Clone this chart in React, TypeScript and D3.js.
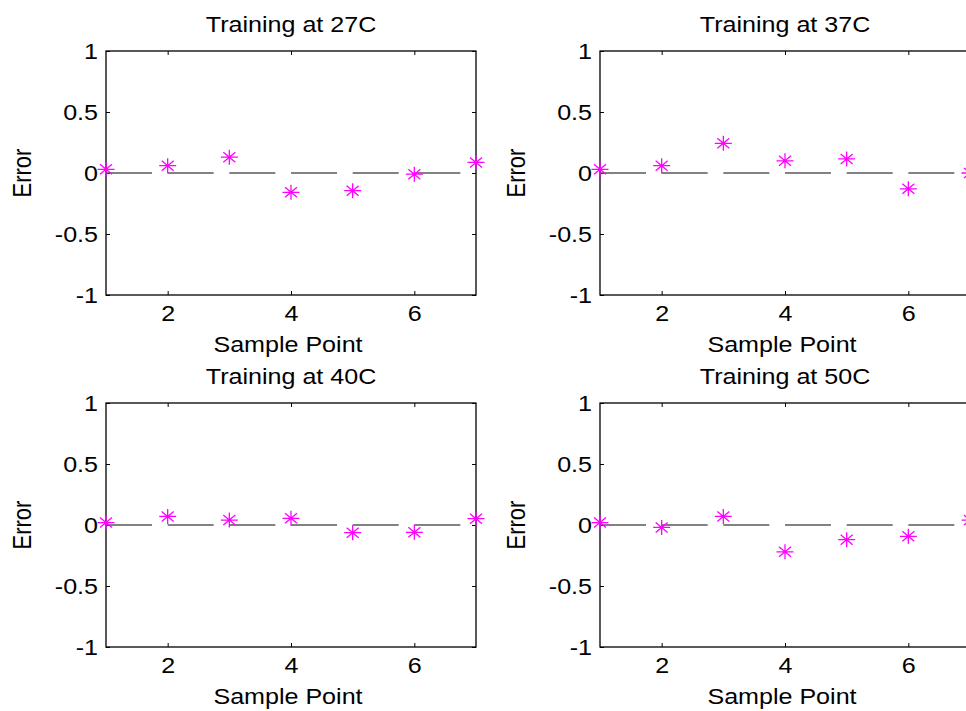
import React, { useRef, useEffect } from 'react';
import * as d3 from 'd3';

// sample index on the x axis
const samplePoints = [1, 2, 3, 4, 5, 6, 7];

// error per sample, one array per training temperature
const err27 = [0.03, 0.06, 0.13, -0.158, -0.145, -0.01, 0.087];
const err37 = [0.03, 0.06, 0.243, 0.1, 0.115, -0.13, 0.0];
const err40 = [0.02, 0.07, 0.04, 0.055, -0.063, -0.06, 0.052];
const err50 = [0.02, -0.02, 0.07, -0.22, -0.12, -0.093, 0.04];

const titles = ['Training at 27C', 'Training at 37C', 'Training at 40C', 'Training at 50C'];
const seriesList = [err27, err37, err40, err50];

const xTicks = [2, 4, 6];
const yTicks = [-1, -0.5, 0, 0.5, 1];

const W = 966;
const H = 711;
const FONT = '"Liberation Sans", Arial, sans-serif';
const FS = 22;
const STRETCH = 1.14;

const App = () => {
  const ref = useRef<SVGSVGElement | null>(null);

  useEffect(() => {
    if (!ref.current) return;
    const svg = d3.select(ref.current);
    svg.selectAll('*').remove();

    const pw = 370;
    const ph = 244;
    const origins = [
      { left: 106, top: 51 },
      { left: 600, top: 51 },
      { left: 106, top: 403 },
      { left: 600, top: 403 },
    ];

    seriesList.forEach((series, k) => {
      const { left, top } = origins[k];
      const g = svg.append('g').attr('transform', `translate(${left},${top})`);

      const x = d3.scaleLinear().domain([1, 7]).range([0, pw]);
      const y = d3.scaleLinear().domain([-1, 1]).range([ph, 0]);

      // box
      g.append('rect')
        .attr('width', pw)
        .attr('height', ph)
        .attr('fill', 'none')
        .attr('stroke', '#000')
        .attr('stroke-width', 1.3);

      const styleAxis = (sel: any) => {
        sel.select('.domain').remove();
        sel.selectAll('line').attr('stroke', '#000');
        sel.selectAll('text')
          .attr('font-family', FONT)
          .attr('font-size', FS)
          .attr('fill', '#000')
          .attr('transform', `scale(${STRETCH},1)`);
      };

      const fmt = (d: any) => String(d);

      g.append('g')
        .call(d3.axisLeft(y).tickValues(yTicks).tickFormat(fmt).tickSize(-4).tickSizeOuter(0).tickPadding(7))
        .call(styleAxis);
      g.append('g')
        .attr('transform', `translate(${pw},0)`)
        .call(d3.axisRight(y).tickValues(yTicks).tickFormat(() => '').tickSize(-4).tickSizeOuter(0))
        .call(styleAxis);
      g.append('g')
        .attr('transform', `translate(0,${ph})`)
        .call(d3.axisBottom(x).tickValues(xTicks).tickFormat(fmt).tickSize(-4).tickSizeOuter(0).tickPadding(10))
        .call(styleAxis);
      g.append('g')
        .call(d3.axisTop(x).tickValues(xTicks).tickFormat(() => '').tickSize(-4).tickSizeOuter(0))
        .call(styleAxis);

      // dashed zero line
      const zero = d3.line<number>().x(d => x(d)).y(() => y(0));
      g.append('path')
        .datum([1, 7])
        .attr('d', zero)
        .attr('fill', 'none')
        .attr('stroke', '#5a5a5a')
        .attr('stroke-width', 1.6)
        .attr('stroke-dasharray', '46 15.67');

      // asterisk markers
      const star = 'M-8.5,0H8.5M0,-7.5V7.5M-6,-5L6,5M-6,5L6,-5';
      g.selectAll('path.pt')
        .data(series)
        .enter()
        .append('path')
        .attr('class', 'pt')
        .attr('d', star)
        .attr('transform', (d, i) => `translate(${x(samplePoints[i])},${y(d)})`)
        .attr('fill', 'none')
        .attr('stroke', '#ff00ff')
        .attr('stroke-width', 1.3);

      // title
      g.append('g')
        .attr('transform', `translate(${pw / 2},${-19}) scale(${STRETCH},1)`)
        .append('text')
        .attr('text-anchor', 'middle')
        .attr('font-family', FONT)
        .attr('font-size', FS)
        .text(titles[k]);

      // x label
      g.append('g')
        .attr('transform', `translate(${pw / 2 - 3},${ph + 57}) scale(${STRETCH},1)`)
        .append('text')
        .attr('text-anchor', 'middle')
        .attr('font-family', FONT)
        .attr('font-size', FS)
        .text('Sample Point');

      // y label
      g.append('g')
        .attr('transform', `translate(${-75},${y(0)}) scale(${STRETCH},1) rotate(-90)`)
        .append('text')
        .attr('text-anchor', 'middle')
        .attr('font-family', FONT)
        .attr('font-size', FS)
        .text('Error');
    });
  }, []);

  return (
    <svg
      ref={ref}
      width={W}
      height={H}
      style={{ position: 'absolute', left: 0, top: 0, background: '#fff' }}
    />
  );
};

export default App;
